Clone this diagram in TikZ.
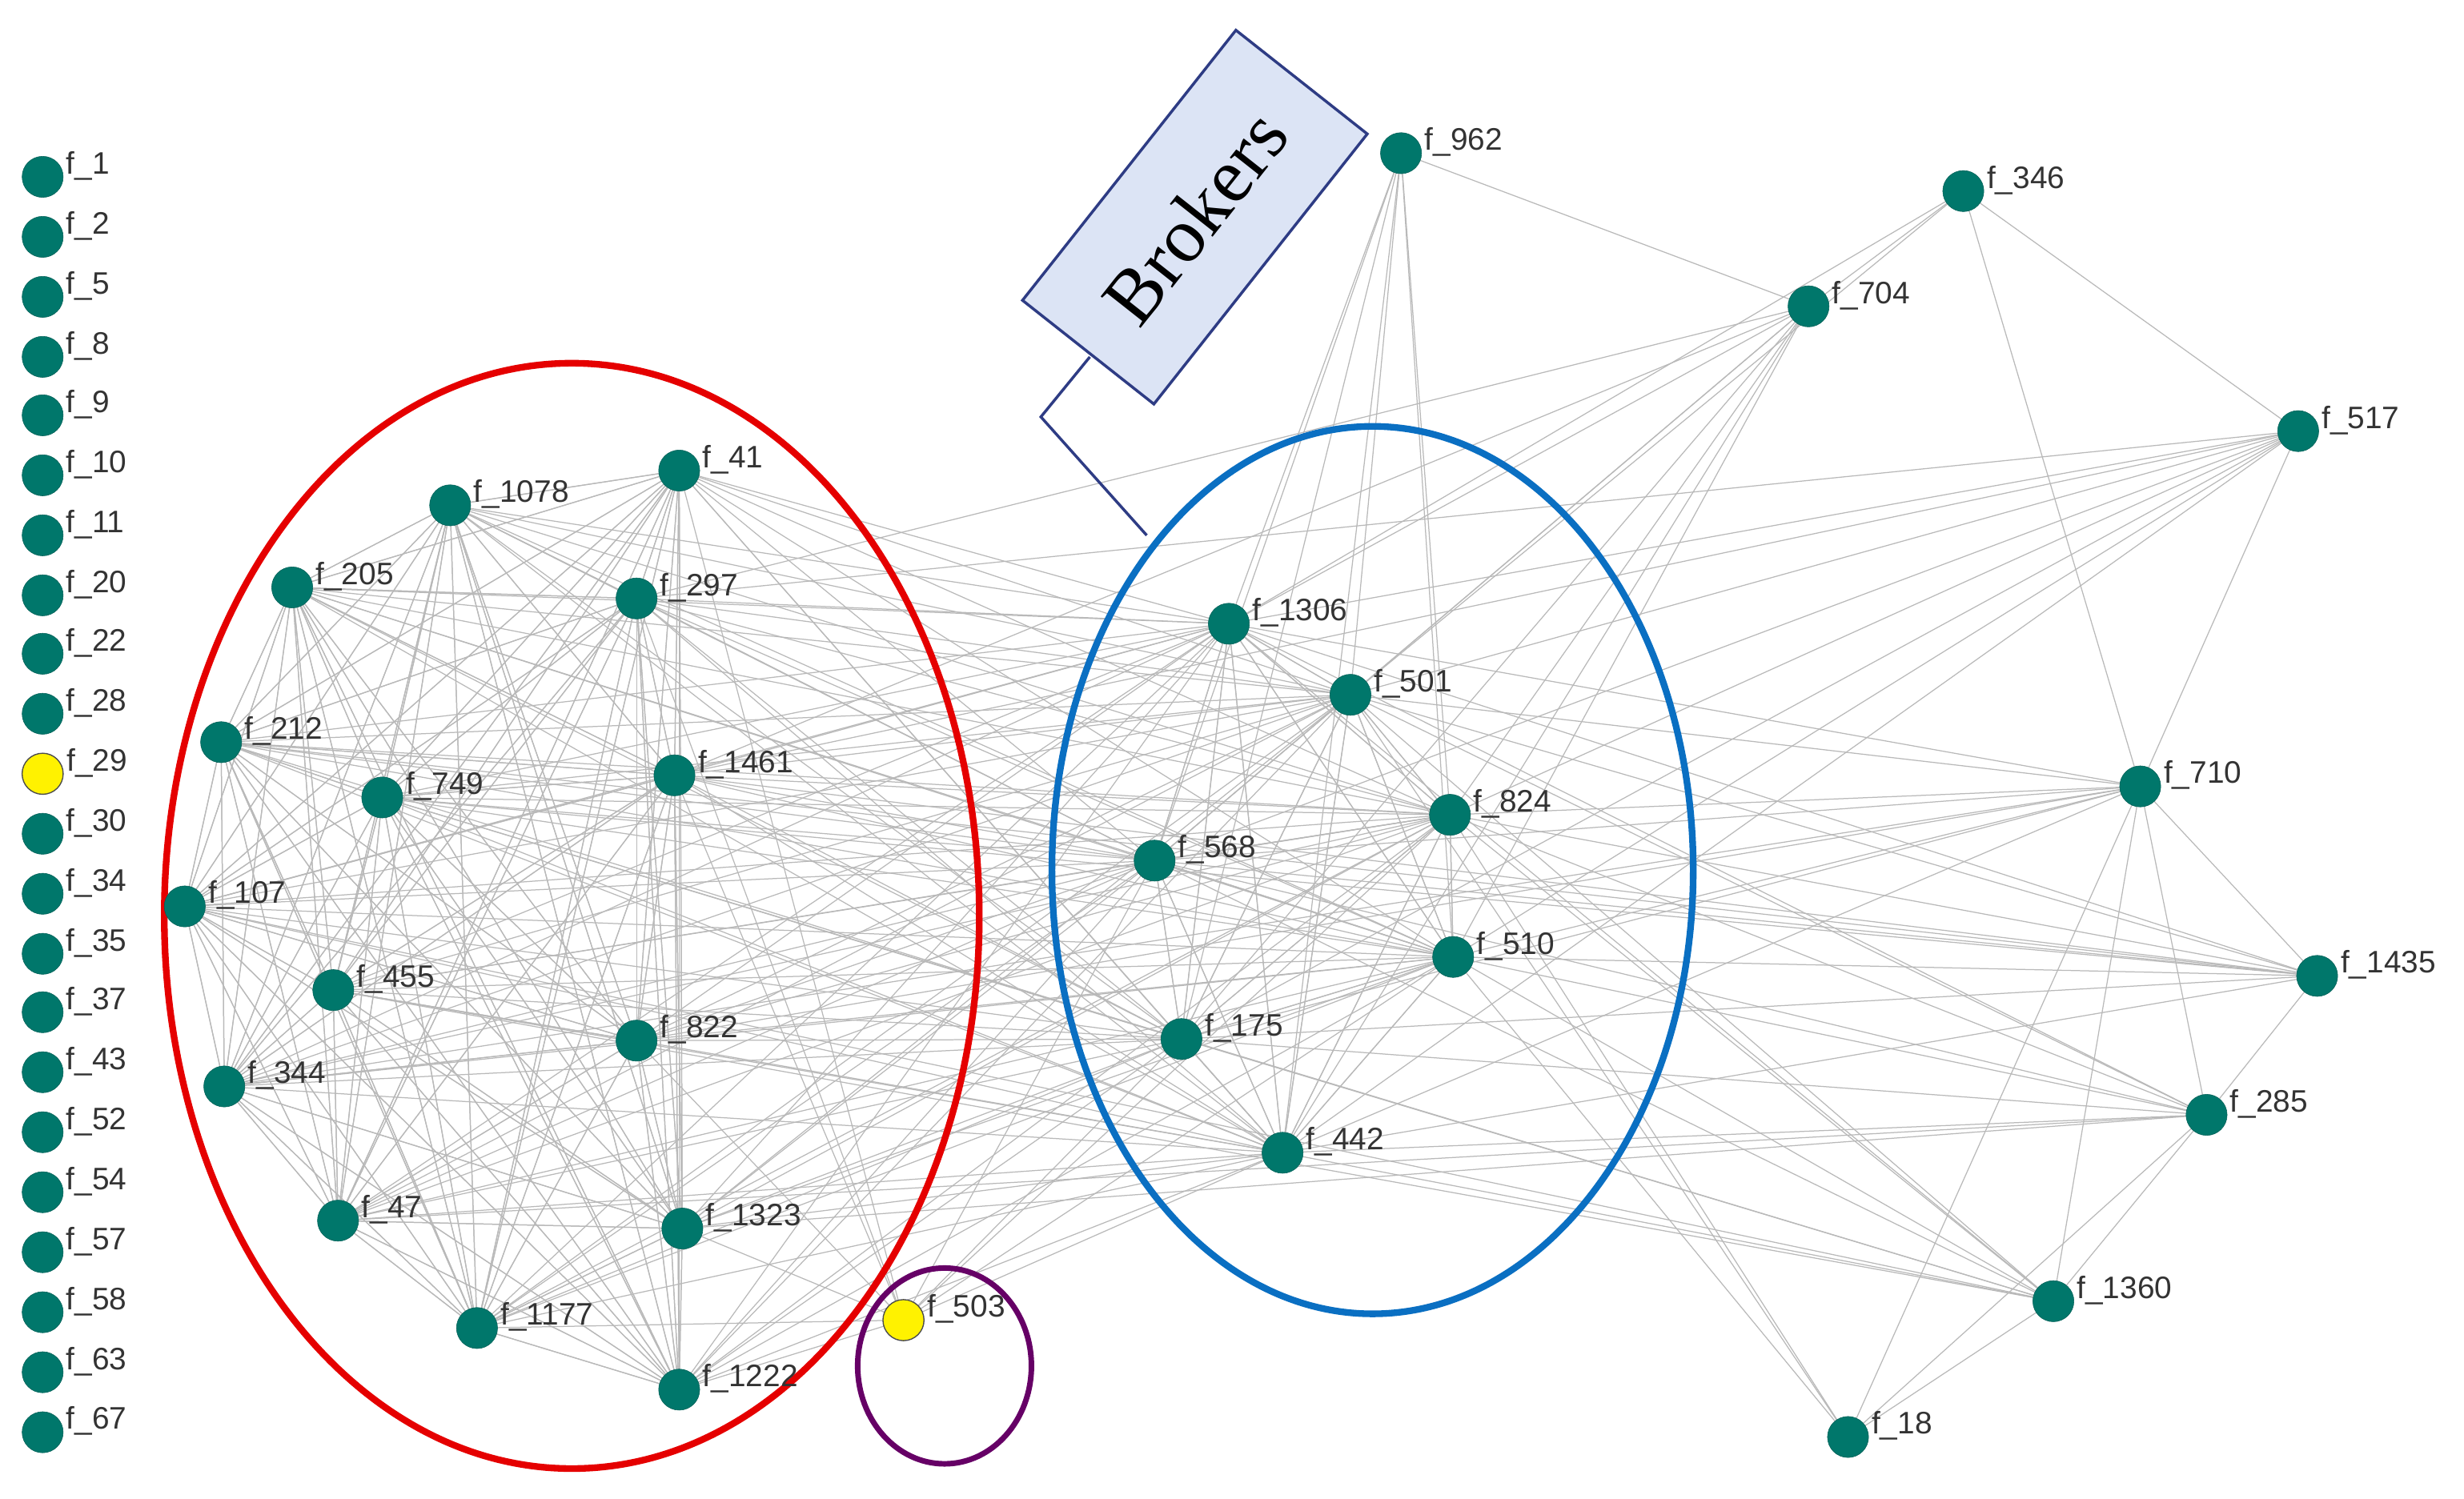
\documentclass[tikz,border=0pt]{standalone}
\usepackage{fontspec}
\setmainfont{Liberation Sans}
\newfontfamily\brkfont{Liberation Serif}
\definecolor{nodec}{HTML}{00776B}
\definecolor{bluec}{HTML}{0A6FC2}
\definecolor{boxc}{HTML}{DCE4F5}
\definecolor{boxe}{HTML}{2E3C84}
\begin{document}
\begin{tikzpicture}[x=0.05cm,y=0.05cm,
  nd/.style={circle,fill=nodec,draw=nodec!80!black,minimum size=1.3cm,inner sep=0pt},
  yl/.style={circle,fill=yellow,draw=black!70,line width=1pt,minimum size=1.3cm,inner sep=0pt},
  lab/.style={font=\fontsize{28}{29}\selectfont,text=black!80,inner sep=1pt,yshift=0.35cm,xshift=0.05cm},
  ed/.style={gray!55,line width=0.9pt}]
\useasboundingbox (0,0) rectangle (1560,-949);
% left column
\foreach \n/\y in {1/112,2/150,5/188,8/226,9/263,10/301,11/339,20/377,22/414,28/452,30/528,34/566,35/604,37/641,43/679,52/717,54/755,57/793,58/831,63/869,67/907}
  \node[nd,label={[lab]right:f\_\n}] (l\n) at (27,-\y) {};
\node[yl,label={[lab]right:f\_29}] (l29) at (27,-490) {};
% coordinates of network
\foreach \n/\x/\y in {1078/285/320,41/430/298,205/185/372,297/403/379,212/140/470,749/242/505,1461/427/491,107/117/574,455/211/627,822/403/659,344/142/688,47/214/773,1323/432/778,1177/302/841,1222/430/880,503/572/836,
1306/778/395,501/855/440,824/918/516,568/731/545,510/920/606,175/748/658,442/812/730,
962/887/97,346/1243/121,704/1145/194,517/1455/273,710/1355/498,1435/1467/618,285/1397/706,1360/1300/824,18/1170/910}
  \coordinate (c\n) at (\x,-\y);
% edges
\foreach \a in {1078,41,205,297,212,749,1461,107,455,822,344,47,1323,1177,1222}{
  \foreach \b in {1078,41,205,297,212,749,1461,107,455,822,344,47,1323,1177,1222,1306,501,824,568,510,175,442}
    {\draw[ed] (c\a) -- (c\b);}}
\foreach \a in {1306,501,824,568,510,175,442}{
  \foreach \b in {1306,501,824,568,510,175,442,962,710,1435,285,1360,517}
    {\draw[ed] (c\a) -- (c\b);}}
\foreach \a/\b in {503/1323,503/1222,503/1177,503/822,503/1461,503/297,503/41,503/175,503/442,503/568,503/824,503/510,
704/1306,704/501,704/824,704/568,704/510,704/175,704/442,704/1461,704/297,346/1306,346/501,
18/824,18/510,18/501,18/710,18/285,18/1360,1360/710,1360/285,1360/455,1360/749,1360/107,
962/704,346/704,346/517,346/710,517/710,710/1435,710/285,285/1435,517/297,517/1461,
1435/1461,1435/749,1435/212,710/822,710/344,285/47,285/1323}
  {\draw[ed] (c\a) -- (c\b);}
% ellipses
\draw[red!90!black,line width=6pt] (362,-580) ellipse [x radius=258,y radius=350];
\draw[bluec,line width=6pt] (869,-551) ellipse [x radius=203,y radius=281];
\draw[violet!80!black,line width=5pt] (598,-865) ellipse [x radius=55,y radius=62];
% brokers
\draw[boxe,line width=2.5pt] (690,-226) coordinate (bk1) -- (659,-264) coordinate (bk2) -- (726,-339) coordinate (bk3);
\node[draw=boxe,line width=2.5pt,fill=boxc,minimum width=218*0.05cm,minimum height=106*0.05cm,rotate=51.7,inner sep=0pt,font=\brkfont\fontsize{70}{72}\selectfont] (brk) at (756.5,-137.5) {Brokers};
% nodes
\foreach \n in {1078,41,205,297,212,749,1461,107,455,822,344,47,1323,1177,1222,1306,501,824,568,510,175,442,962,346,704,517,710,1435,285,1360,18}
  \node[nd,label={[lab]right:f\_\n}] (n\n) at (c\n) {};
\node[yl,label={[lab]right:f\_503}] (n503) at (c503) {};
\end{tikzpicture}
\end{document}
